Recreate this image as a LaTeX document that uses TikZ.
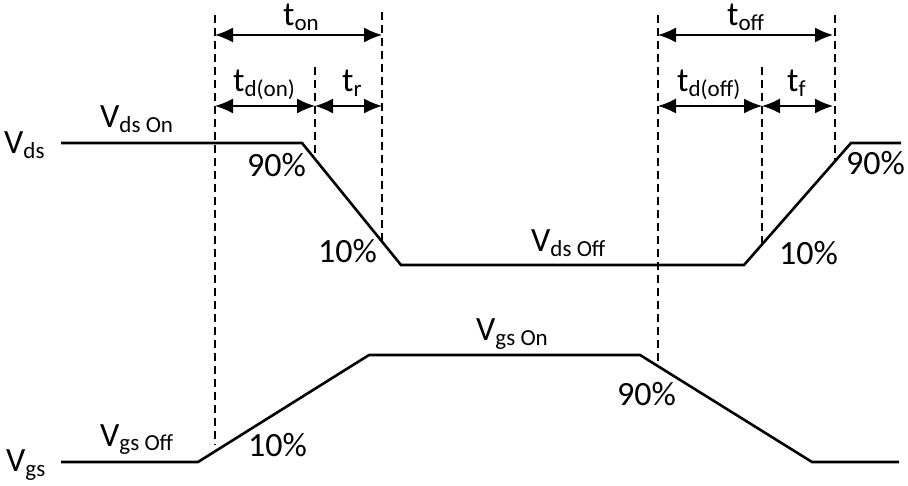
\documentclass[tikz,border=0pt]{standalone}
\usepackage{fontspec}
\setmainfont{Carlito}
\usetikzlibrary{arrows.meta}

\newcommand{\subtxt}[1]{\raisebox{-5pt}{\fontsize{23}{25}\selectfont #1}}

\begin{document}
\begin{tikzpicture}[x=1pt,y=-1pt,
    wave/.style={line width=2.6pt},
    guide/.style={line width=1.2pt,dash pattern=on 8pt off 5pt},
    span/.style={line width=1.5pt,{Latex[length=18pt,width=15pt]}-{Latex[length=18pt,width=15pt]}},
    lbl/.style={inner sep=0pt,anchor=base west,font=\fontsize{34}{40}\selectfont}]
    \useasboundingbox (0,0) rectangle (908,486);

    % corners of the two waveforms
    \coordinate (Vds0) at (61,143);
    \coordinate (Vds1) at (302,143);
    \coordinate (Vds2) at (401,265);
    \coordinate (Vds3) at (744,265);
    \coordinate (Vds4) at (851,143);
    \coordinate (Vds5) at (901,143);

    \coordinate (Vgs0) at (61,462);
    \coordinate (Vgs1) at (198,462);
    \coordinate (Vgs2) at (369,355);
    \coordinate (Vgs3) at (640,355);
    \coordinate (Vgs4) at (812,462);
    \coordinate (Vgs5) at (899,462);

    \draw[wave] (Vds0) -- (Vds1) -- (Vds2) -- (Vds3) -- (Vds4) -- (Vds5);
    \draw[wave] (Vgs0) -- (Vgs1) -- (Vgs2) -- (Vgs3) -- (Vgs4) -- (Vgs5);

    % dashed guides
    \coordinate (onTop) at (215,15);    \coordinate (onBot) at (215,445);
    \coordinate (rTop) at (315,67);     \coordinate (rBot) at (315,157);
    \coordinate (onEndTop) at (382,12); \coordinate (onEndBot) at (382,242);
    \coordinate (offTop) at (658,15);   \coordinate (offBot) at (658,366);
    \coordinate (fTop) at (762,67);     \coordinate (fBot) at (762,245);
    \coordinate (offEndTop) at (835,15);\coordinate (offEndBot) at (835,160);

    \draw[guide] (onTop) -- (onBot);
    \draw[guide] (rTop) -- (rBot);
    \draw[guide] (onEndTop) -- (onEndBot);
    \draw[guide] (offTop) -- (offBot);
    \draw[guide] (fTop) -- (fBot);
    \draw[guide] (offEndTop) -- (offEndBot);

    % time spans
    \coordinate (tonA) at (215,35);  \coordinate (tonB) at (382,35);
    \coordinate (tdonA) at (215,106); \coordinate (tdonB) at (315,106);
    \coordinate (trB) at (382,106);
    \coordinate (toffA) at (658,35); \coordinate (toffB) at (833,35);
    \coordinate (tdoffA) at (658,106); \coordinate (tdoffB) at (762,106);
    \coordinate (tfB) at (833,106);

    \draw[span] (tonA) -- (tonB);
    \draw[span] (tdonA) -- (tdonB);
    \draw[span] (tdonB) -- (trB);
    \draw[span] (toffA) -- (toffB);
    \draw[span] (tdoffA) -- (tdoffB);
    \draw[span] (tdoffB) -- (tfB);

    \node[lbl] at (283,26) (tonLbl) {t\subtxt{on}};
    \node[lbl] at (233,92) (tdonLbl) {t\subtxt{d(on)}};
    \node[lbl] at (342,92) (trLbl) {t\subtxt{r}};
    \node[lbl] at (727,26) (toffLbl) {t\subtxt{off}};
    \node[lbl] at (677,92) (tdoffLbl) {t\subtxt{d(off)}};
    \node[lbl] at (787,92) (tfLbl) {t\subtxt{f}};

    % signal labels
    \node[lbl] at (4,154) (VdsLbl) {V\subtxt{ds}};
    \node[lbl] at (6,471) (VgsLbl) {V\subtxt{gs}};
    \node[lbl] at (100,128) (VdsOn) {V\subtxt{ds On}};
    \node[lbl] at (531,252) (VdsOff) {V\subtxt{ds Off}};
    \node[lbl] at (476,341) (VgsOn) {V\subtxt{gs On}};
    \node[lbl] at (100,446) (VgsOff) {V\subtxt{gs Off}};

    % percentages
    \node[lbl] at (247,177) (pcA) {90\%};
    \node[lbl] at (318,263) (pcB) {10\%};
    \node[lbl] at (779,265) (pcC) {10\%};
    \node[lbl] at (846,175) (pcD) {90\%};
    \node[lbl] at (617,405) (pcE) {90\%};
    \node[lbl] at (248,456) (pcF) {10\%};
\end{tikzpicture}
\end{document}
